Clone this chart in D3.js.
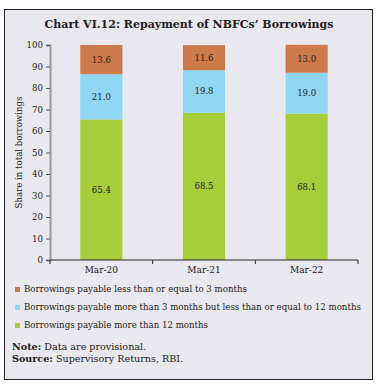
<!DOCTYPE html>
<html>
<head>
<meta charset="utf-8">
<script src="https://cdn.jsdelivr.net/npm/d3@7"></script>
<style>
  body { margin: 0; background: #fff; }
  svg text { font-family: "DejaVu Serif", serif; fill: #222; }
</style>
</head>
<body>
<div id="graph"></div>
<script>
var categories = ['Mar-20', 'Mar-21', 'Mar-22']
var upto3m = [13.6, 11.6, 13.0]
var from3to12m = [21.0, 19.8, 19.0]
var over12m = [65.4, 68.5, 68.1]
var yTicks = [0, 10, 20, 30, 40, 50, 60, 70, 80, 90, 100]
var seriesNames = [
  'Borrowings payable less than or equal to 3 months',
  'Borrowings payable more than 3 months but less than or equal to 12 months',
  'Borrowings payable more than 12 months'
]
var colors = ['#cc7a4a', '#8fd6f5', '#a7cd3a']

var W = 380, H = 386
var margin = {top: 45, right: 22, bottom: 126, left: 50}
var width = W - margin.left - margin.right,
  height = H - margin.top - margin.bottom

var svg = d3.select('#graph').append('svg')
  .attr('width', W).attr('height', H)

// frame
svg.append('rect')
  .attr('x', 4.5).attr('y', 9.5).attr('width', 368).attr('height', 370)
  .attr('fill', '#e9e8ee').attr('stroke', '#222').attr('stroke-width', 1)

svg.append('text')
  .attr('x', 189).attr('y', 28)
  .attr('text-anchor', 'middle')
  .style('font-size', '11px').style('font-weight', 'bold')
  .text('Chart VI.12: Repayment of NBFCs\u2019 Borrowings')

var g = svg.append('g')
  .attr('transform', 'translate(' + margin.left + ',' + margin.top + ')')

var x = d3.scaleBand().domain(categories).range([0, width]).paddingInner(0.59).paddingOuter(0.295)
var y = d3.scaleLinear().domain([0, 100]).range([height, 0])

var data = categories.map(function(c, i) {
  return {cat: c, over12m: over12m[i], from3to12m: from3to12m[i], upto3m: upto3m[i]}
})
var stack = d3.stack().keys(['over12m', 'from3to12m', 'upto3m'])(data)
var keyColor = {over12m: colors[2], from3to12m: colors[1], upto3m: colors[0]}

var layers = g.selectAll('.layer').data(stack).enter().append('g')
  .attr('fill', function(d) { return keyColor[d.key] })

layers.selectAll('rect').data(function(d) { return d }).enter().append('rect')
  .attr('x', function(d) { return x(d.data.cat) })
  .attr('width', x.bandwidth())
  .attr('y', function(d) { return y(d[1]) })
  .attr('height', function(d) { return y(d[0]) - y(d[1]) })

layers.each(function(l) {
  d3.select(this).selectAll('text').data(l).enter().append('text')
    .attr('x', function(d) { return x(d.data.cat) + x.bandwidth() / 2 })
    .attr('y', function(d) { return (y(d[0]) + y(d[1])) / 2 })
    .attr('dy', '0.35em')
    .attr('text-anchor', 'middle')
    .style('font-size', '8.5px')
    .text(function(d) { return d.data[l.key].toFixed(1) })
})

// y axis
var yAxis = g.append('g')
  .call(d3.axisLeft(y).tickValues(yTicks).tickSize(4).tickPadding(3))
yAxis.select('.domain').attr('stroke', '#999').attr('stroke-width', 2)
yAxis.selectAll('.tick line').attr('stroke', '#555')
yAxis.selectAll('text').style('font-size', '8.6px').style('font-family', '"DejaVu Serif", serif')

// x axis with ticks at band edges
var xAxis = g.append('g').attr('transform', 'translate(0,' + height + ')')
xAxis.append('line').attr('x1', 0).attr('x2', width).attr('stroke', '#222')
var edges = [0].concat(categories.map(function(c) { return x(c) + x.bandwidth() + x.step() * 0.295 }))
xAxis.selectAll('.edge').data(edges).enter().append('line')
  .attr('x1', function(d) { return d }).attr('x2', function(d) { return d })
  .attr('y1', 0).attr('y2', 4).attr('stroke', '#222')
xAxis.selectAll('.lab').data(categories).enter().append('text')
  .attr('x', function(d) { return x(d) + x.bandwidth() / 2 })
  .attr('y', 13)
  .attr('text-anchor', 'middle')
  .style('font-size', '9px')
  .text(function(d) { return d })

svg.append('text')
  .attr('transform', 'translate(22,' + (margin.top + height / 2) + ') rotate(-90)')
  .attr('text-anchor', 'middle')
  .style('font-size', '8.6px')
  .text('Share in total borrowings')

// legend
var legend = svg.append('g')
legend.selectAll('g').data(seriesNames).enter().append('g')
  .attr('transform', function(d, i) { return 'translate(15,' + (292 + i * 18) + ')' })
  .each(function(d, i) {
    d3.select(this).append('rect').attr('x', 0).attr('y', -5).attr('width', 5).attr('height', 5)
      .attr('fill', colors[i])
    d3.select(this).append('text').attr('x', 9).attr('y', 0)
      .style('font-size', '8.65px').text(d)
  })

var notes = svg.append('g').style('font-size', '9.6px')
var t1 = notes.append('text').attr('x', 12).attr('y', 350)
t1.append('tspan').style('font-weight', 'bold').text('Note:')
t1.append('tspan').text(' Data are provisional.')
var t2 = notes.append('text').attr('x', 12).attr('y', 362)
t2.append('tspan').style('font-weight', 'bold').text('Source:')
t2.append('tspan').text(' Supervisory Returns, RBI.')
</script>
</body>
</html>
